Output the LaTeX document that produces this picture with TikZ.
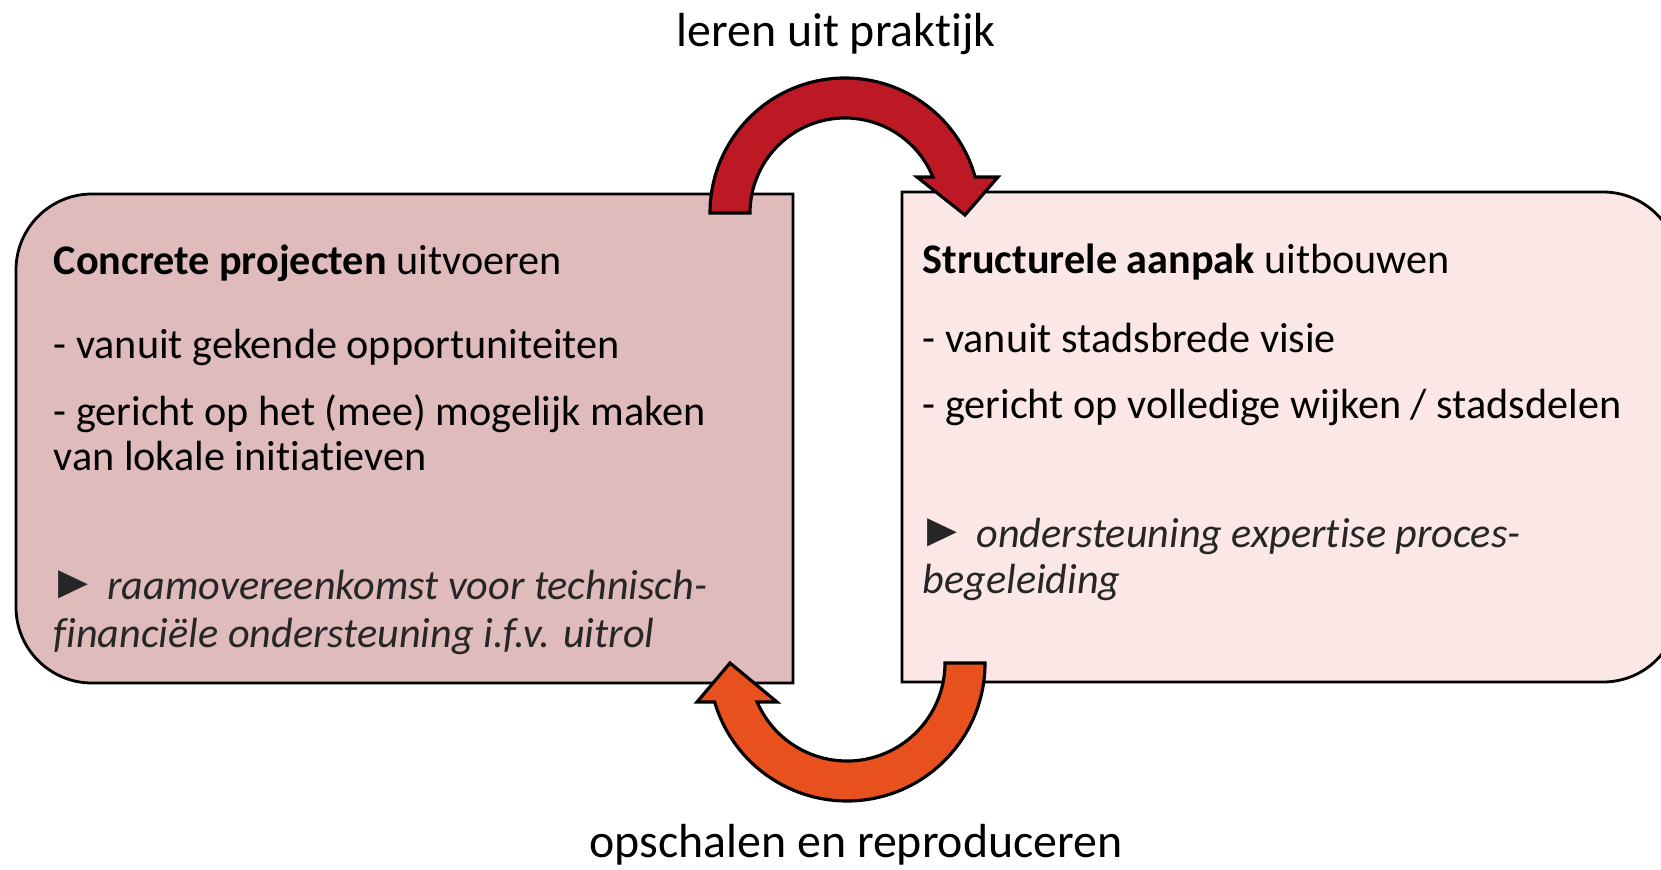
\documentclass[tikz,border=0pt]{standalone}
\usepackage{graphicx}
\usepackage{fontspec}
\setmainfont{Carlito}[RawFeature={-liga;-clig;-calt;-dlig}]
\newfontfamily\symfont{DejaVu Sans}
\definecolor{leftfill}{HTML}{DFBBBC}
\definecolor{rightfill}{HTML}{FAE7E6}
\definecolor{topred}{HTML}{BC1924}
\definecolor{botorange}{HTML}{E8511E}
\definecolor{notegray}{HTML}{262626}
\newcommand{\tri}{\makebox[15.3pt][l]{\hspace{1.4pt}\resizebox{8.5pt}{8.2pt}{\symfont\upshape ►}}}
\begin{document}
\begin{tikzpicture}[x=0.01cm,y=0.01cm,
  txt/.style={anchor=base west,inner sep=0pt,font=\fontsize{12}{13.2}\selectfont},
  note/.style={anchor=base west,inner sep=0pt,text=notegray,font=\fontsize{12}{13.2}\selectfont\itshape},
  lbl/.style={anchor=base,inner sep=0pt,font=\fontsize{13.6}{16}\selectfont},
  boxline/.style={draw=black,line width=0.8pt},
  arrowshape/.style={draw=black,line width=0.9pt,line join=miter}]
\useasboundingbox (0,0) rectangle (1661,869);
\begin{scope}
\clip (0,0) rectangle (1661,869);
% boxes
\draw[boxline,fill=leftfill] (793,675) -- (92,675) arc[start angle=90,end angle=180,radius=76]
  -- (16,262) arc[start angle=180,end angle=270,radius=76] -- (793,186) -- cycle;
\draw[boxline,fill=rightfill] (902,677) -- (1603,677) arc[start angle=90,end angle=0,radius=76]
  -- (1679,263) arc[start angle=0,end angle=-90,radius=76] -- (902,187) -- cycle;
% arrows
\draw[arrowshape,fill=topred] (710,656) arc[start angle=180,end angle=15.48,radius=135]
  -- (998,692) -- (965,654) -- (917,692) -- (932.9,692)
  arc[start angle=22.27,end angle=180,radius=95] -- cycle;
\draw[arrowshape,fill=botorange] (985,206) arc[start angle=0,end angle=-163.58,radius=138]
  -- (697,167) -- (730,206) -- (777,167) -- (757.1,167)
  arc[start angle=-156.55,end angle=0,radius=98] -- cycle;
\end{scope}
% labels
\node[lbl] (leren) at (836,822) {leren uit praktijk};
\node[lbl] (opschalen) at (856,12) {opschalen en reproduceren};
% left box text
\node[txt] (l1) at (53,594) {\textbf{Concrete projecten} uitvoeren};
\node[txt] (l2) at (53,511) {- vanuit gekende opportuniteiten};
\node[txt] (l3) at (53,444) {- gericht op het (mee) mogelijk maken};
\node[txt] (l4) at (53,399) {van lokale initiatieven};
\node[note] (l5) at (53,270) {\tri raamovereenkomst voor technisch-};
\node[note] (l6) at (53,222) {financiële ondersteuning i.f.v. uitrol};
% right box text
\node[txt] (r1) at (922,596) {\textbf{Structurele aanpak} uitbouwen};
\node[txt] (r2) at (922,517) {- vanuit stadsbrede visie};
\node[txt] (r3) at (922,451) {- gericht op volledige wijken / stadsdelen};
\node[note] (r4) at (922,322) {\tri ondersteuning expertise proces-};
\node[note] (r5) at (922,276) {begeleiding};
\end{tikzpicture}
\end{document}
